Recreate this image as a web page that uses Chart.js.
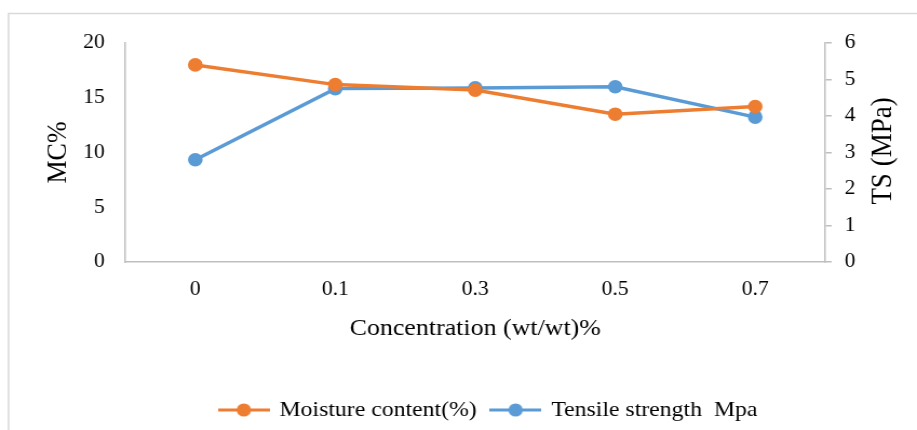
<!DOCTYPE html>
<html>
<head>
<meta charset="utf-8">
<script src="https://cdn.jsdelivr.net/npm/chart.js@4.4.1/dist/chart.umd.min.js"></script>
<style>
  html, body { margin: 0; padding: 0; background: #fff; overflow: hidden; }
  #wrap { width: 917px; height: 430px; overflow: hidden; }
  /* the figure is a little wider than it is drawn */
  #mcChart { transform: scaleX(1.0801); transform-origin: 0 0; }
</style>
</head>
<body>
<div id="wrap"><canvas id="mcChart" width="849" height="430"></canvas></div>
<script>
// concentrations on the x axis
const concentrations = ['0', '0.1', '0.3', '0.5', '0.7'];
// moisture content, left axis (%)
const moisture = [18.0, 16.2, 15.7, 13.5, 14.2];
// tensile strength, right axis (MPa)
const tensile = [2.8, 4.75, 4.77, 4.8, 3.97];

const mcTicks = [0, 5, 10, 15, 20];
const tsTicks = [0, 1, 2, 3, 4, 5, 6];

const ORANGE = '#ED7D31';
const BLUE = '#5B9BD5';
const AXIS = '#BFBFBF';
const FONT = "'Liberation Serif', 'Times New Roman', serif";

// legend marker: short line with a dot in the middle
function legendMarker(color) {
  const c = document.createElement('canvas');
  c.width = 48; c.height = 16;
  const g = c.getContext('2d');
  g.strokeStyle = color;
  g.lineWidth = 3;
  g.beginPath();
  g.moveTo(0, 8); g.lineTo(48, 8);
  g.stroke();
  g.fillStyle = color;
  g.beginPath();
  g.arc(24, 8, 6.6, 0, Math.PI * 2);
  g.fill();
  return c;
}

// light frame around the figure, open to the right and bottom
const framePlugin = {
  id: 'frame',
  beforeDraw(chart) {
    const ctx = chart.ctx;
    ctx.save();
    ctx.strokeStyle = '#D9D9D9';
    ctx.lineWidth = 1.5;
    ctx.beginPath();
    ctx.moveTo(7.9, 440);
    ctx.lineTo(7.9, 13.5);
    ctx.lineTo(900, 13.5);
    ctx.stroke();
    ctx.restore();
  }
};

// both value-axis titles read bottom to top
const axisTitles = {
  id: 'axisTitles',
  afterDraw(chart) {
    const ctx = chart.ctx;
    const put = (text, x, y, size) => {
      ctx.save();
      ctx.translate(x, y);
      ctx.rotate(-Math.PI / 2);
      ctx.font = size + 'px ' + FONT;
      ctx.fillStyle = '#000';
      ctx.textAlign = 'center';
      ctx.textBaseline = 'middle';
      ctx.fillText(text, 0, 0);
      ctx.restore();
    };
    put('MC%', 54.6, 152.5, 26);
    put('TS (MPa)', 817.6, 151, 27);
  }
};

new Chart(document.getElementById('mcChart'), {
  type: 'line',
  data: {
    labels: concentrations,
    datasets: [{
      label: 'Moisture content(%)',
      data: moisture,
      yAxisID: 'y',
      borderColor: ORANGE,
      backgroundColor: ORANGE,
      borderWidth: 3.5,
      pointRadius: 6.8,
      pointHoverRadius: 6.8,
      pointBorderWidth: 0,
      tension: 0
    }, {
      label: 'Tensile strength  Mpa',
      data: tensile,
      yAxisID: 'y1',
      borderColor: BLUE,
      backgroundColor: BLUE,
      borderWidth: 3.5,
      pointRadius: 6.8,
      pointHoverRadius: 6.8,
      pointBorderWidth: 0,
      tension: 0
    }]
  },
  options: {
    responsive: false,
    animation: false,
    layout: { padding: { left: 56, right: 0, top: 43, bottom: 0 } },
    plugins: {
      tooltip: { enabled: false },
      legend: {
        position: 'bottom',
        maxHeight: 45,
        labels: {
          color: '#000',
          font: { family: FONT, size: 22 },
          usePointStyle: true,
          pointStyleWidth: 44,
          padding: 14,
          generateLabels(chart) {
            return chart.data.datasets.map((ds, i) => ({
              text: ds.label,
              pointStyle: legendMarker(ds.borderColor),
              fillStyle: ds.borderColor,
              strokeStyle: ds.borderColor,
              lineWidth: 0,
              hidden: false,
              datasetIndex: i
            }));
          }
        }
      }
    },
    scales: {
      x: {
        offset: true,
        grid: { display: false, drawTicks: false },
        border: { color: AXIS, width: 1.5 },
        ticks: { color: '#000', font: { family: FONT, size: 20 }, padding: 16 },
        title: {
          display: true, text: 'Concentration (wt/wt)%', color: '#000',
          font: { family: FONT, size: 24 }, padding: { top: 0, bottom: 42 }
        },
        afterFit(s) { s.height = 123; }
      },
      y: {
        position: 'left',
        min: 0, max: 20,
        afterBuildTicks(s) { s.ticks = mcTicks.map(v => ({ value: v })); },
        grid: { display: false, drawTicks: false },
        border: { color: AXIS, width: 1.5 },
        ticks: { color: '#000', font: { family: FONT, size: 20 }, padding: 19 },
        afterFit(s) { s.width = 60; }
      },
      y1: {
        position: 'right',
        min: 0, max: 6,
        afterBuildTicks(s) { s.ticks = tsTicks.map(v => ({ value: v })); },
        grid: { drawOnChartArea: false, drawTicks: true, tickLength: 6, color: AXIS, lineWidth: 1.5 },
        border: { color: AXIS, width: 1.5 },
        ticks: { color: '#000', font: { family: FONT, size: 20 }, padding: 12 },
        afterFit(s) { s.width = 85; }
      }
    }
  },
  plugins: [framePlugin, axisTitles]
});
</script>
</body>
</html>
